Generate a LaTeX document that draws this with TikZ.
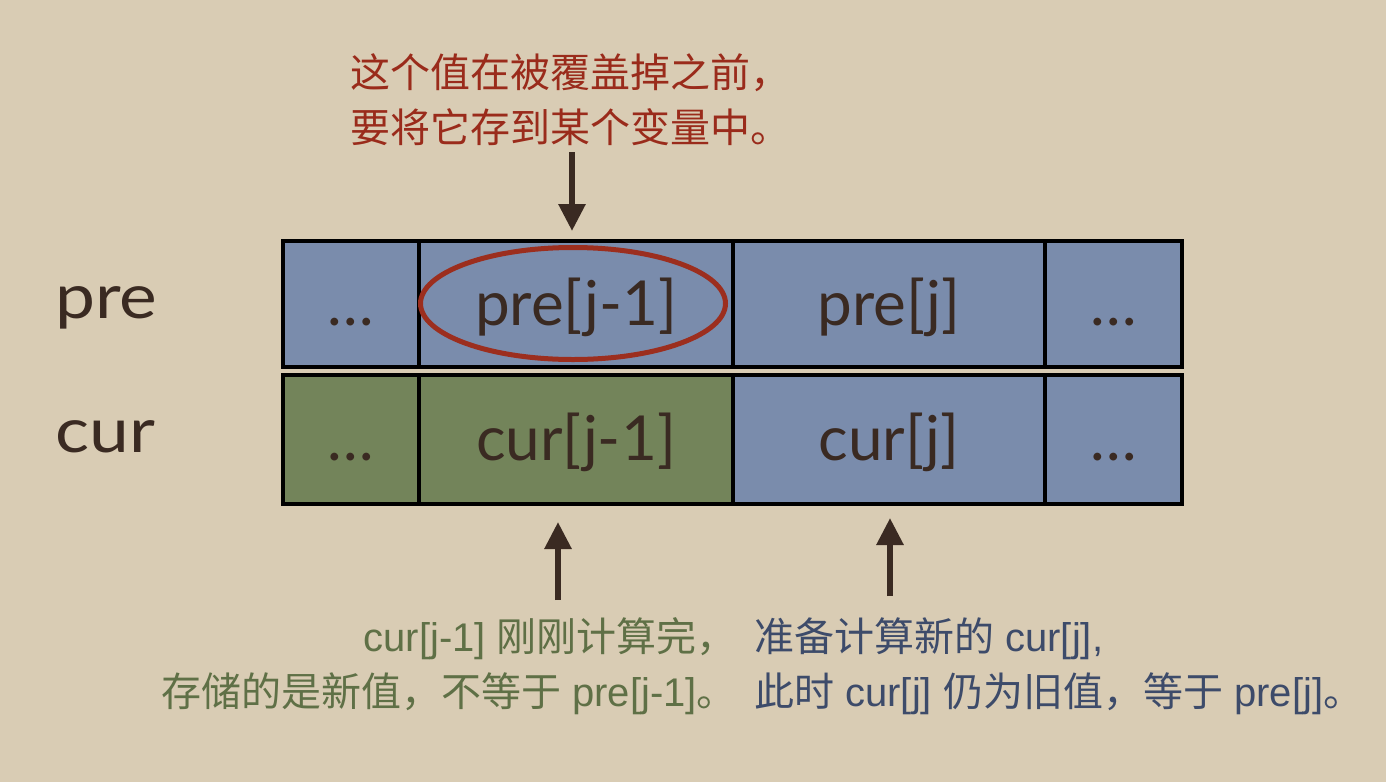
\documentclass[tikz,border=0pt]{standalone}
\usepackage{fontspec}
\setmainfont{Liberation Sans}
\newfontfamily\cjk{Noto Sans CJK SC}
\newfontfamily\cellfont{Lato}
\newfontfamily\labelfont[FakeStretch=1.15]{Lato}
\usetikzlibrary{arrows.meta,shapes.geometric}
\definecolor{bg}{HTML}{D9CCB4}
\definecolor{cellblue}{HTML}{7A8CAC}
\definecolor{cellgreen}{HTML}{73845A}
\definecolor{ink}{HTML}{3A2A22}
\definecolor{redtxt}{HTML}{9A2B1B}
\definecolor{redline}{HTML}{9C2E1E}
\definecolor{greentxt}{HTML}{5F7046}
\definecolor{bluetxt}{HTML}{3D4B6A}
\begin{document}
\begin{tikzpicture}[x=1pt,y=-1pt,
  cell/.style={draw=black, line width=4pt, inner sep=0pt, text=ink,
    font=\cellfont\fontsize{62}{66}\selectfont, text height=60pt, text depth=18pt},
  rowlabel/.style={anchor=base west, inner sep=0pt, text=ink, font=\labelfont\fontsize{62}{66}\selectfont},
  note/.style={inner sep=0pt, font=\fontsize{40}{44}\selectfont},
  arr/.style={draw=ink, line width=6pt, -{Triangle[width=26pt,length=27pt]}},
  ring/.style={draw=redline, line width=5pt, ellipse, inner sep=0pt}
]
\fill[bg] (0,0) rectangle (1386,782);
\useasboundingbox (0,0) rectangle (1386,782);

% row labels
\node[rowlabel] (lpre) at (55,318) {pre};
\node[rowlabel] (lcur) at (55,452) {cur};

% pre row
\node[cell, fill=cellblue, minimum width=136pt, minimum height=126pt] (p0) at (351,304) {…};
\node[cell, fill=cellblue, minimum width=314pt, minimum height=126pt] (p1) at (576,304) {pre[j-1]};
\node[cell, fill=cellblue, minimum width=312pt, minimum height=126pt] (p2) at (889,304) {pre[j]};
\node[cell, fill=cellblue, minimum width=137pt, minimum height=126pt] (p3) at (1113.5,304) {…};

% cur row
\node[cell, fill=cellgreen, minimum width=136pt, minimum height=129pt] (c0) at (351,439.5) {…};
\node[cell, fill=cellgreen, minimum width=314pt, minimum height=129pt] (c1) at (576,439.5) {cur[j-1]};
\node[cell, fill=cellblue, minimum width=312pt, minimum height=129pt] (c2) at (889,439.5) {cur[j]};
\node[cell, fill=cellblue, minimum width=137pt, minimum height=129pt] (c3) at (1113.5,439.5) {…};

% highlight ring
\node[ring, minimum width=305pt, minimum height=112pt] (ring) at (573,303.5) {};

% top note
\node[note, anchor=base west, text=redtxt] (t1) at (350,87.5) {\cjk 这个值在被覆盖掉之前，};
\node[note, anchor=base west, text=redtxt] (t2) at (350,142.5) {\cjk 要将它存到某个变量中。};

% bottom-left note
\node[note, anchor=base east, text=greentxt] (g1) at (737,651) {cur[j-1] {\cjk 刚刚计算完，}};
\node[note, anchor=base east, text=greentxt] (g2) at (737,706) {{\cjk 存储的是新值，不等于} pre[j-1]{\cjk 。}};

% bottom-right note
\node[note, anchor=base west, text=bluetxt] (b1) at (754,651) {{\cjk 准备计算新的} cur[j],};
\node[note, anchor=base west, text=bluetxt] (b2) at (754,706) {{\cjk 此时} cur[j] {\cjk 仍为旧值，等于} pre[j]{\cjk 。}};

% arrows
\coordinate (ta) at (572,152);
\coordinate (tb) at (572,231);
\coordinate (la) at (558,600);
\coordinate (lb) at (558,522);
\coordinate (ra) at (890,596);
\coordinate (rb) at (890,518);
\draw[arr] (ta) -- (tb);
\draw[arr] (la) -- (lb);
\draw[arr] (ra) -- (rb);
\end{tikzpicture}
\end{document}
